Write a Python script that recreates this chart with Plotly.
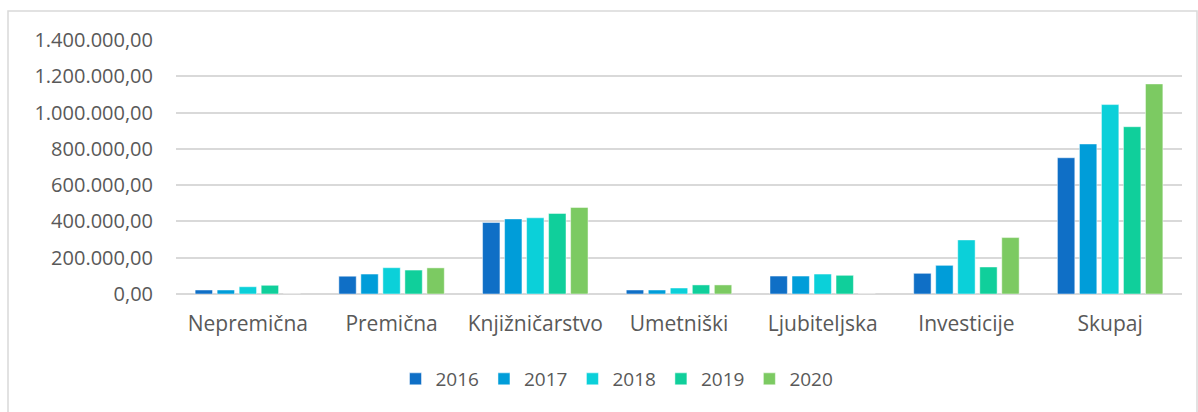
import plotly.graph_objects as go

categories = ["Nepremična", "Premična", "Knjižničarstvo", "Umetniški", "Ljubiteljska", "Investicije", "Skupaj"]
years = ["2016", "2017", "2018", "2019", "2020"]
v2016 = [22000, 98000, 394000, 22000, 99000, 114000, 751000]
v2017 = [22000, 110000, 414000, 22000, 99000, 158000, 827000]
v2018 = [40000, 145000, 420000, 33000, 110000, 298000, 1044000]
v2019 = [48000, 132000, 444000, 50000, 103000, 149000, 922000]
v2020 = [0, 144000, 477000, 50000, 0, 311000, 1158000]
series = [v2016, v2017, v2018, v2019, v2020]
colors = ["#0F6FC6", "#009DD9", "#0BD0D9", "#10CF9B", "#7CCA62"]
tickvals = [0, 200000, 400000, 600000, 800000, 1000000, 1200000, 1400000]
ticktext = ["0,00", "200.000,00", "400.000,00", "600.000,00", "800.000,00",
            "1.000.000,00", "1.200.000,00", "1.400.000,00"]

fig = go.Figure()
for y, vals, c in zip(years, series, colors):
    fig.add_trace(go.Bar(x=categories, y=vals, name=y,
                         marker=dict(color=c, line=dict(width=0.8, color="rgba(255,255,255,0.6)"))))

W, H = 1198, 412
L, R, T, B = 176, 16, 40, 118
pw, ph = W - L - R, H - T - B

def px(x):
    return (x - L) / pw

def py(y):
    return (H - B - y) / ph

fig.update_layout(
    width=W, height=H,
    margin=dict(l=L, r=R, t=T, b=B),
    paper_bgcolor="white", plot_bgcolor="white",
    barmode="group", bargap=0.234, bargroupgap=0.21,
    font=dict(family="Open Sans", color="#595959"),
    showlegend=True,
    legend=dict(orientation="h", x=px(617), xanchor="center", y=py(379), yanchor="middle",
                font=dict(size=19, color="#595959"), traceorder="normal",
                itemwidth=30),
    xaxis=dict(showgrid=False, showline=False, ticks="", tickfont=dict(size=21, color="#595959"),
               ticklabelstandoff=15),
    yaxis=dict(range=[0, 1400000], tickvals=tickvals, ticktext=ticktext, showgrid=True,
               gridcolor="#D9D9D9", gridwidth=1.5, zeroline=True, zerolinecolor="#D9D9D9",
               zerolinewidth=1.5, tickfont=dict(size=20, color="#595959"), ticklabelstandoff=22,
               showline=False),
    shapes=[dict(type="rect", xref="paper", yref="paper", x0=px(8), x1=px(1197), y0=py(430), y1=py(11),
                 line=dict(color="#D9D9D9", width=1.5), fillcolor="rgba(0,0,0,0)", layer="below")],
)

fig.write_html("out.html", config={"displayModeBar": False},
               post_script="document.body.style.margin='0';document.body.style.overflow='hidden';")
